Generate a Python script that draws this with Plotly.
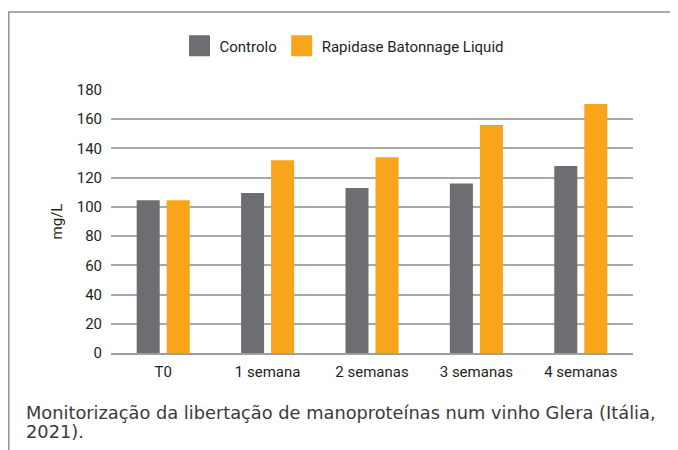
import plotly.graph_objects as go

categories = ["T0", "1 semana", "2 semanas", "3 semanas", "4 semanas"]
controlo = [104.5, 109.5, 113, 116, 128]
rapidase = [104.5, 132, 134, 156, 170.5]
series_names = ["Controlo", "Rapidase Batonnage Liquid"]
colors = ["#6d6e71", "#f8a51c"]
y_ticks = [0, 20, 40, 60, 80, 100, 120, 140, 160, 180]
caption_lines = ["Monitorização da libertação de manoproteínas num vinho Glera (Itália,", "2021)."]

FONT = "Roboto, sans-serif"
CAP_FONT = "DejaVu Sans, sans-serif"

OFF = 8  # page body margin
W, H = 678 - OFF, 450 - OFF
# plot area in window pixels
L, R, T, B = 111, 633, 90, 352.7
pw, ph = R - L, B - T

def px(x):
    return (x - L) / pw

def py(y):
    return (B - y) / ph

fig = go.Figure()
for name, vals, col in zip(series_names, [controlo, rapidase], colors):
    fig.add_trace(go.Bar(x=categories, y=vals, name=name, marker_color=col,
                         marker_line_width=0, showlegend=False))
    fig.add_trace(go.Scatter(x=[None], y=[None], mode="markers", name=name,
                             marker=dict(symbol="square", size=22, color=col,
                                         line=dict(color=col, width=7)),
                             showlegend=True))

fig.update_layout(
    width=W, height=H,
    margin=dict(l=L - OFF, r=(W + OFF) - R, t=T - OFF, b=(H + OFF) - B, pad=0, autoexpand=False),
    paper_bgcolor="white", plot_bgcolor="white",
    barmode="group", bargap=0.425, bargroupgap=0.233,
    font=dict(family=FONT, size=15, color="#231f20"),
    showlegend=True,
    legend=dict(orientation="h", x=px(344), xanchor="center", y=py(46), yanchor="middle",
                font=dict(family=FONT, size=15, color="#231f20"),
                itemsizing="trace", itemwidth=30, traceorder="normal",
                bgcolor="rgba(0,0,0,0)"),
    xaxis=dict(showgrid=False, showline=True, linecolor="#9d9fa2", linewidth=2,
               ticks="", tickfont=dict(family=FONT, size=15, color="#231f20"),
               ticklabelstandoff=4, fixedrange=True),
    yaxis=dict(range=[0, 180], tickvals=y_ticks, showgrid=True, gridcolor="#a7a9ac",
               gridwidth=2, zeroline=False, showline=False, ticks="",
               tickfont=dict(family=FONT, size=15, color="#231f20"),
               title=dict(text="mg/L", font=dict(family=FONT, size=15, color="#231f20"), standoff=10),
               ticklabelstandoff=8, fixedrange=True),
    shapes=[dict(type="path", xref="paper", yref="paper",
                 path=f"M {px(8.8)},{py(470)} L {px(8.8)},{py(12)} L {px(700)},{py(12)}",
                 line=dict(color="#8c9196", width=1.5))],
    annotations=[dict(xref="paper", yref="paper", x=px(24), y=py(yc), xanchor="left",
                      yanchor="middle", align="left", showarrow=False, text=line,
                      font=dict(family=CAP_FONT, size=17.8, color="#3a3a3a"))
                 for line, yc in zip(caption_lines, [412, 431])],
)

fig.write_html("out.html")
